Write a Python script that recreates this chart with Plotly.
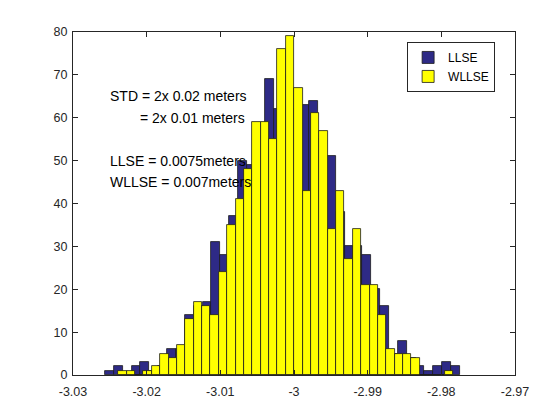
import numpy as np
import plotly.graph_objects as go

# Histogram counts (40 bins each)
llse_counts = [1, 2, 0, 2, 3, 1, 2, 6, 6, 14,
               16, 17, 31, 28, 37, 50, 49, 50, 69, 62,
               70, 62, 63, 64, 55, 51, 38, 30, 30, 28,
               20, 16, 5, 8, 4, 2, 1, 2, 3, 2]
wllse_counts = [1, 1, 0, 1, 2, 5, 4, 7, 13, 17,
                16, 14, 24, 35, 41, 48, 59, 59, 55, 76,
                79, 67, 43, 61, 57, 34, 43, 27, 34, 21,
                21, 14, 6, 5, 5, 4, 0, 0, 0, 1]

# Data range of each histogram (min, max of the estimates)
llse_range = (-3.02566, -2.97747)
wllse_range = (-3.02385, -2.97838)

x_ticks = [-3.03, -3.02, -3.01, -3.0, -2.99, -2.98, -2.97]
x_ticklabels = ["-3.03", "-3.02", "-3.01", "-3", "-2.99", "-2.98", "-2.97"]
y_ticks = [0, 10, 20, 30, 40, 50, 60, 70, 80]

notes = [
    ("STD = 2x 0.02 meters", -3.02525, 65),
    ("= 2x 0.01 meters", -3.0212, 60),
    ("LLSE = 0.0075meters", -3.02525, 50),
    ("WLLSE = 0.007meters", -3.02525, 45),
]

AXIS_COL = "#262626"
FONT = "Liberation Sans, Arial, sans-serif"


def bin_centres(lo, hi, n):
    edges = np.linspace(lo, hi, n + 1)
    return (edges[:-1] + edges[1:]) / 2, edges[1] - edges[0]


llse_x, llse_w = bin_centres(*llse_range, len(llse_counts))
wllse_x, wllse_w = bin_centres(*wllse_range, len(wllse_counts))

fig = go.Figure()
fig.add_trace(go.Bar(
    x=llse_x, y=llse_counts, width=llse_w,
    name="LLSE",
    marker=dict(color="#2e2a86", line=dict(color="#1a1a1a", width=0.8)),
))
fig.add_trace(go.Bar(
    x=wllse_x, y=wllse_counts, width=wllse_w,
    name="WLLSE",
    marker=dict(color="#ffff00", line=dict(color="#1a1a1a", width=0.8)),
))

for text, x, y in notes:
    fig.add_annotation(
        text=text, x=x, y=y, xref="x", yref="y",
        xanchor="left", yanchor="middle", showarrow=False,
        font=dict(size=14, color="#000000", family=FONT),
    )

axis_common = dict(
    showline=True, linecolor=AXIS_COL, linewidth=1, mirror="ticks",
    ticks="inside", ticklen=5, tickcolor=AXIS_COL,
    showgrid=False, zeroline=False,
    tickfont=dict(size=12.5, color=AXIS_COL, family=FONT),
)

# the page body adds an 8px offset, so margins are shifted to compensate
fig.update_layout(
    width=560, height=420,
    paper_bgcolor="white", plot_bgcolor="white",
    margin=dict(l=65, r=53, t=24, b=53),
    barmode="overlay", bargap=0,
    showlegend=True,
    legend=dict(
        x=0.955, y=0.971, xanchor="right", yanchor="top",
        bordercolor=AXIS_COL, borderwidth=1, bgcolor="white",
        font=dict(size=12, color="#000000", family=FONT),
        itemwidth=30, tracegroupgap=0,
    ),
    xaxis=dict(
        range=[-3.03, -2.97], tickvals=x_ticks, ticktext=x_ticklabels,
        ticklabelstandoff=5,
        **axis_common,
    ),
    yaxis=dict(range=[0, 80], tickvals=y_ticks, ticklabelstandoff=2,
               **axis_common),
)

fig.write_html("out.html")
